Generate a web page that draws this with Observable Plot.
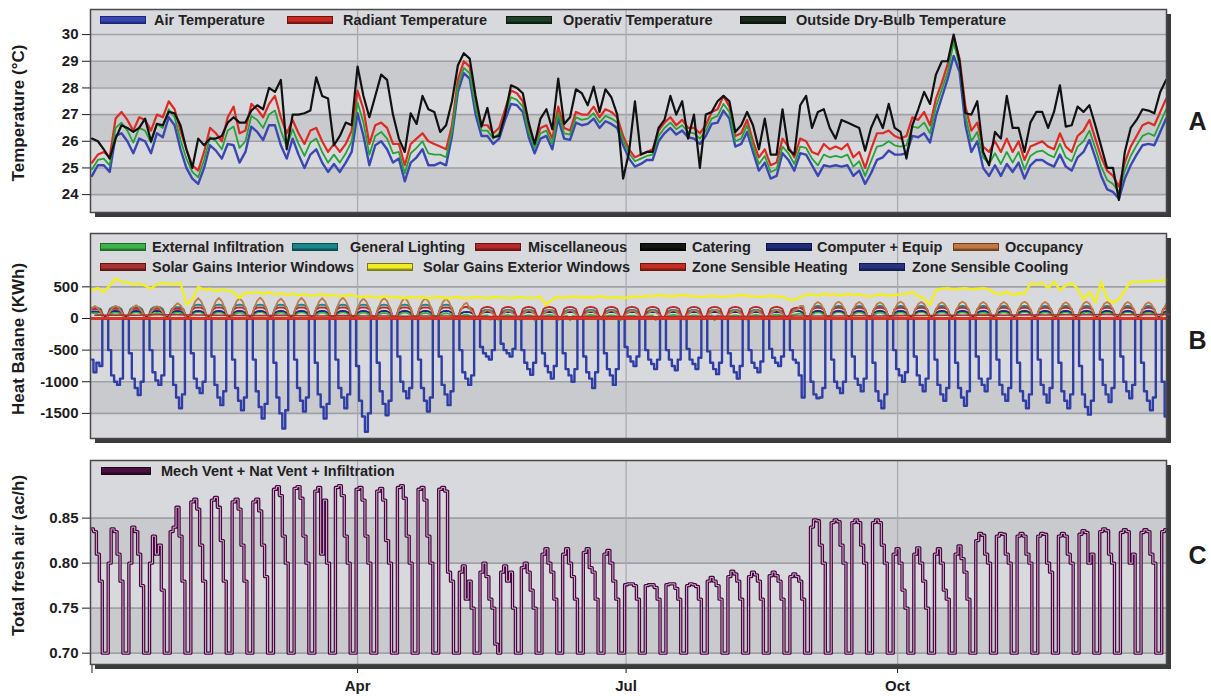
<!DOCTYPE html>
<html><head><meta charset="utf-8">
<script src="https://cdn.jsdelivr.net/npm/d3@7"></script>
<script src="https://cdn.jsdelivr.net/npm/@observablehq/plot@0.6"></script>
<style>
body{margin:0;background:#fff;font-family:"Liberation Sans",Arial,Helvetica,sans-serif;}
#chart{position:relative;width:1211px;height:696px;overflow:hidden;}
.panel{position:relative;width:1211px;}
.panel svg{display:block;}
.sw{position:absolute;height:8px;box-sizing:border-box;border:1px solid #222;}
.lt{position:absolute;font-weight:bold;font-size:14.5px;line-height:17px;color:#222;white-space:nowrap;}
</style></head>
<body><div id="chart"></div>
<script>
// ---------------- DATA ----------------
// Panel A: temperatures every 2 days from 1 Jan (°C)
const airTemp = [24.7,25.1,25.1,24.85,26.2,26.3,26.0,25.55,26.1,26.0,25.55,26.3,26.15,26.9,26.6,25.7,25.0,24.6,24.4,25.0,25.85,25.65,25.35,25.9,25.85,25.2,25.6,26.55,26.35,26.05,26.6,26.6,25.85,25.35,26.1,25.5,25.0,25.5,25.7,25.2,24.85,25.15,24.85,25.2,25.6,27.05,26.2,25.1,25.85,26.0,25.7,25.2,25.35,24.5,25.2,25.4,25.7,25.1,25.1,25.2,25.1,
26.2,27.85,28.55,28.35,27.0,26.2,26.2,25.9,26.1,26.8,27.4,27.35,27.1,26.15,25.55,26.1,26.2,25.7,26.85,26.1,26.05,26.7,26.6,26.65,26.85,26.5,26.75,26.65,26.5,25.85,25.35,25.05,25.15,25.3,25.3,26.0,26.3,26.5,26.25,26.4,26.15,26.1,25.9,26.2,26.65,26.7,27.15,26.85,25.8,25.9,26.35,25.6,24.9,25.2,24.6,24.7,25.55,25.3,24.9,25.55,25.5,25.1,
24.7,25.1,25.05,25.1,25.05,25.1,24.7,24.9,24.4,24.8,25.3,25.4,25.65,25.5,25.5,25.55,26.2,26.15,26.3,25.95,26.95,27.65,28.35,29.2,28.6,26.6,25.6,26.0,25.0,24.7,25.1,24.7,25.15,24.85,25.2,24.6,25.1,25.3,25.3,25.15,25.05,25.5,25.05,24.9,25.4,25.6,26.05,25.4,24.7,24.2,24.1,23.85,24.6,25.1,25.5,25.85,25.9,25.85,26.35,26.85];
const radiantTemp = [25.2,25.5,25.6,25.4,26.85,27.1,26.8,26.4,26.9,26.8,26.4,27.0,26.9,27.5,27.2,26.4,25.7,25.1,24.9,25.6,26.5,26.3,26.0,26.9,27.3,26.3,26.4,27.4,27.2,26.9,27.4,27.7,26.9,26.3,26.8,26.3,25.9,26.4,26.5,26.0,25.6,25.9,25.6,25.9,26.4,27.9,27.2,25.9,26.6,26.7,26.5,25.9,25.9,25.1,25.9,26.1,26.3,26.0,25.9,25.8,25.7,
26.6,28.3,29.0,28.8,27.5,26.6,26.6,26.3,26.5,27.2,27.9,27.8,27.5,26.5,25.9,26.5,26.6,26.1,27.3,26.5,26.4,27.1,27.0,27.0,27.3,26.9,27.2,27.1,26.9,26.2,25.7,25.4,25.5,25.6,25.7,26.4,26.7,26.9,26.6,26.8,26.5,26.5,26.3,26.6,27.1,27.2,27.7,27.3,26.2,26.3,26.8,26.0,25.4,25.7,25.1,25.2,26.1,25.8,25.4,26.1,26.0,25.6,
25.5,25.9,25.7,25.8,25.7,25.9,25.4,25.6,25.0,25.7,26.3,26.3,26.4,26.2,26.1,26.2,26.9,26.8,27.1,26.6,27.6,28.2,28.9,29.9,29.1,27.3,26.4,26.7,25.8,25.6,26.0,25.6,26.1,25.6,26.0,25.3,25.8,25.9,26.0,25.8,25.7,26.3,25.8,25.6,26.2,26.4,26.8,26.1,25.4,24.9,24.7,24.3,25.2,25.8,26.2,26.6,26.7,26.6,27.1,27.6];
const operativeTemp = [24.95,25.3,25.35,25.1,26.5,26.7,26.4,25.95,26.5,26.4,25.95,26.65,26.5,27.2,26.9,26.05,25.35,24.85,24.65,25.3,26.15,26.0,25.7,26.4,26.55,25.75,26.0,26.95,26.8,26.5,27.0,27.15,26.4,25.8,26.45,25.9,25.45,25.95,26.1,25.6,25.2,25.5,25.2,25.55,26.0,27.45,26.7,25.5,26.2,26.35,26.1,25.55,25.6,24.8,25.55,25.75,26.0,25.55,25.5,25.5,25.4,
26.4,28.05,28.75,28.55,27.25,26.4,26.4,26.1,26.3,27.0,27.65,27.55,27.3,26.35,25.75,26.3,26.4,25.9,27.05,26.3,26.25,26.9,26.8,26.85,27.05,26.7,26.95,26.85,26.7,26.05,25.55,25.25,25.35,25.45,25.5,26.2,26.5,26.7,26.45,26.6,26.35,26.3,26.1,26.4,26.85,26.95,27.4,27.1,26.0,26.1,26.6,25.8,25.15,25.45,24.85,24.95,25.8,25.55,25.15,25.8,25.75,25.35,
25.1,25.5,25.4,25.45,25.4,25.5,25.05,25.25,24.7,25.25,25.8,25.85,26.0,25.85,25.8,25.85,26.55,26.5,26.7,26.3,27.3,27.95,28.6,29.7,28.85,26.95,26.0,26.35,25.4,25.15,25.55,25.15,25.6,25.2,25.6,24.95,25.45,25.6,25.65,25.5,25.4,25.9,25.4,25.25,25.8,26.0,26.4,25.75,25.05,24.55,24.4,24.1,24.9,25.45,25.85,26.2,26.3,26.2,26.7,27.2];
const outsideTemp = [26.1,26.0,25.7,25.35,26.1,26.6,26.5,26.35,26.5,26.85,26.0,26.65,26.6,27.1,27.05,26.6,25.7,25.0,26.1,25.85,26.1,26.1,26.2,26.7,26.9,26.7,26.7,27.15,27.35,27.2,28.0,27.85,28.3,25.7,27.0,27.0,27.05,27.15,28.4,27.7,27.6,25.85,26.2,26.7,26.6,28.8,27.7,26.9,27.7,28.5,28.3,27.0,26.1,25.6,27.05,26.65,27.7,27.2,27.1,26.35,26.6,
27.5,28.85,29.3,29.1,27.7,26.55,27.25,26.15,26.2,27.0,28.1,28.0,27.8,26.7,25.9,26.85,27.2,26.45,28.35,26.65,26.9,27.95,27.8,27.35,28.05,27.1,27.95,27.65,27.0,24.6,25.6,27.5,25.5,25.6,25.6,26.5,26.8,27.7,27.0,27.5,26.1,27.0,25.0,27.0,27.1,27.5,27.7,27.5,26.35,26.6,27.1,26.6,25.7,26.85,25.5,25.5,27.2,25.7,25.5,27.35,27.7,26.5,
27.1,27.2,26.5,26.1,26.8,26.7,26.6,26.5,25.65,26.5,27.0,26.5,27.4,26.5,26.35,25.35,26.6,27.2,27.85,27.4,28.5,29.0,29.0,30.0,29.0,27.05,27.0,27.5,25.6,25.1,26.35,26.1,27.7,26.5,26.5,25.6,26.7,27.1,27.1,26.5,27.1,28.1,26.55,26.6,27.3,27.1,27.35,26.6,25.8,25.0,25.0,23.8,25.6,26.5,26.8,27.2,27.15,27.05,27.85,28.3];

// Panel B: heat balance (kWh), daily from Tue 1 Jan (rows = weeks Mon..Sun)
const zoneCooling = [-650,-850,-700,-750,0,0,
-500,-900,-1000,-1050,-950,0,0, -550,-950,-1100,-1210,-1000,0,0, -500,-850,-980,-1050,-900,0,0, -600,-1050,-1250,-1420,-1200,0,0,
-550,-950,-1100,-1180,-1000,0,0, -600,-1050,-1250,-1370,-1150,0,0, -650,-1100,-1300,-1450,-1250,0,0, -650,-1150,-1400,-1580,-1350,0,0,
-700,-1250,-1500,-1740,-1450,0,0, -650,-1100,-1300,-1470,-1250,0,0, -700,-1200,-1400,-1580,-1350,0,0, -650,-1100,-1250,-1420,-1200,0,0,
-750,-1300,-1550,-1790,-1500,0,0, -700,-1150,-1350,-1530,-1300,0,0, -600,-1000,-1150,-1260,-1100,0,0, -650,-1100,-1300,-1470,-1250,0,0,
-600,-1050,-1200,-1370,-1150,0,0, -500,-850,-950,-1050,-900,0,0, -450,-550,-600,-650,-500,0,0, -400,-500,-550,-600,-480,0,0,
-500,-700,-800,-890,-700,0,0, -550,-750,-850,-950,-750,0,0, -550,-800,-900,-1000,-800,0,0, -600,-850,-950,-1100,-850,0,0,
-550,-800,-900,-1050,-800,0,0, -450,-600,-680,-750,-600,0,0, -500,-650,-720,-800,-650,0,0, -500,-650,-750,-820,-650,0,0,
-480,-650,-720,-800,-620,0,0, -520,-700,-800,-880,-700,0,0, -550,-750,-850,-950,-750,0,0, -500,-700,-780,-850,-680,0,0,
-480,-620,-700,-750,-600,0,0, -500,-650,-700,-900,-1250,0,0, -1000,-1200,-1260,-1250,-1100,0,0, -650,-1000,-1100,-1180,-1000,0,0,
-600,-950,-1050,-1150,-950,0,0, -700,-1150,-1300,-1420,-1200,0,0, -500,-800,-900,-1000,-850,0,0, -600,-900,-1050,-1150,-950,0,0,
-650,-1050,-1200,-1300,-1100,0,0, -700,-1100,-1250,-1380,-1150,0,0, -600,-950,-1050,-1150,-950,0,0, -650,-1050,-1200,-1300,-1100,0,0,
-700,-1150,-1300,-1420,-1200,0,0, -650,-1050,-1200,-1330,-1100,0,0, -700,-1150,-1300,-1420,-1200,0,0, -750,-1200,-1400,-1520,-1300,0,0,
-650,-1050,-1200,-1320,-1100,0,0, -600,-1000,-1150,-1260,-1050,0,0, -700,-1150,-1300,-1450,-1250,0,0,
-1000,-1550];
const occupancy = [160,200,160,100,0,0,
100,170,200,170,100,0,0, 110,180,210,175,105,0,0, 100,165,195,165,100,0,0, 120,200,240,210,130,0,0,
160,270,320,270,160,0,0, 165,275,325,275,165,0,0, 160,270,320,270,160,0,0, 170,280,330,280,165,0,0,
160,270,315,265,160,0,0, 165,275,325,275,165,0,0, 160,270,320,270,160,0,0, 170,280,330,280,170,0,0,
160,265,315,265,160,0,0, 165,275,320,275,165,0,0, 160,270,325,270,160,0,0, 165,270,320,270,160,0,0,
160,265,310,260,150,0,0, 130,220,250,160,100,0,0, 70,110,130,110,70,0,0, 65,105,125,105,65,0,0,
70,110,130,110,70,0,0, 75,115,135,115,70,0,0, 70,110,130,110,70,0,0, 65,105,125,105,65,0,0,
70,110,130,110,70,0,0, 70,105,125,110,70,0,0, 65,105,125,105,65,0,0, 70,110,130,110,70,0,0,
70,110,130,110,70,0,0, 75,115,135,115,75,0,0, 70,110,130,110,70,0,0, 70,110,130,110,70,0,0,
75,115,135,115,75,0,0, 80,120,140,200,200,0,0, 140,230,260,230,140,0,0, 145,235,265,235,145,0,0,
140,230,260,230,140,0,0, 140,230,255,230,140,0,0, 145,235,265,235,145,0,0, 140,230,260,230,140,0,0,
140,225,255,225,140,0,0, 145,235,265,235,145,0,0, 140,230,260,230,140,0,0, 140,230,260,230,140,0,0,
145,235,265,235,145,0,0, 140,230,260,230,140,0,0, 140,225,255,225,140,0,0, 145,235,265,235,145,0,0,
140,230,260,230,140,0,0, 140,230,260,230,140,0,0, 140,225,255,225,140,0,0,
140,230];
const generalLighting = [170,170,170,150,20,20,
150,180,180,180,150,20,20, 150,180,180,180,150,20,20, 150,180,180,180,150,20,20, 150,180,180,180,150,20,20,
170,210,220,210,170,20,20, 170,210,220,210,170,20,20, 170,210,220,210,170,20,20, 170,210,220,210,170,20,20,
170,210,220,210,170,20,20, 170,210,220,210,170,20,20, 170,210,220,210,170,20,20, 170,210,220,210,170,20,20,
170,210,220,210,170,20,20, 170,210,220,210,170,20,20, 170,210,220,210,170,20,20, 170,210,220,210,170,20,20,
170,210,220,210,170,20,20, 150,180,180,150,120,15,15, 110,130,135,130,110,15,15, 110,130,135,130,110,15,15,
110,130,135,130,110,15,15, 110,130,135,130,110,15,15, 110,130,135,130,110,15,15, 110,130,135,130,110,15,15,
110,130,135,130,110,15,15, 110,130,135,130,110,15,15, 110,130,135,130,110,15,15, 110,130,135,130,110,15,15,
110,130,135,130,110,15,15, 110,130,135,130,110,15,15, 110,130,135,130,110,15,15, 110,130,135,130,110,15,15,
110,130,135,130,110,15,15, 110,130,150,180,170,20,20, 150,190,200,190,150,20,20, 150,190,200,190,150,20,20,
150,190,200,190,150,20,20, 150,190,200,190,150,20,20, 150,190,200,190,150,20,20, 150,190,200,190,150,20,20,
150,190,200,190,150,20,20, 150,190,200,190,150,20,20, 150,190,200,190,150,20,20, 150,190,200,190,150,20,20,
150,190,200,190,150,20,20, 150,190,200,190,150,20,20, 150,190,200,190,150,20,20, 150,190,200,190,150,20,20,
150,190,200,190,150,20,20, 150,190,200,190,150,20,20, 150,190,200,190,150,20,20,
150,190];
const miscellaneous = [150,150,140,130,10,10,
130,150,155,150,130,10,10, 130,150,155,150,130,10,10, 130,150,155,150,130,10,10, 130,150,155,150,130,10,10,
140,170,175,170,140,10,10, 140,170,175,170,140,10,10, 140,170,175,170,140,10,10, 140,170,175,170,140,10,10,
140,170,175,170,140,10,10, 140,170,175,170,140,10,10, 140,170,175,170,140,10,10, 140,170,175,170,140,10,10,
140,170,175,170,140,10,10, 140,170,175,170,140,10,10, 140,170,175,170,140,10,10, 140,170,175,170,140,10,10,
140,170,175,170,140,10,10, 150,175,185,175,150,10,10, 150,175,185,175,150,10,10, 150,175,185,175,150,10,10,
150,175,185,175,150,10,10, 150,175,185,175,150,10,10, 150,175,185,175,150,10,10, 150,175,185,175,150,10,10,
150,175,185,175,150,10,10, 150,175,185,175,150,10,10, 150,175,185,175,150,10,10, 150,175,185,175,150,10,10,
150,175,185,175,150,10,10, 150,175,185,175,150,10,10, 150,175,185,175,150,10,10, 150,175,185,175,150,10,10,
150,175,185,175,150,10,10, 140,165,170,165,140,10,10, 140,165,170,165,140,10,10, 140,165,170,165,140,10,10,
140,165,170,165,140,10,10, 140,165,170,165,140,10,10, 140,165,170,165,140,10,10, 140,165,170,165,140,10,10,
140,165,170,165,140,10,10, 140,165,170,165,140,10,10, 140,165,170,165,140,10,10, 140,165,170,165,140,10,10,
140,165,170,165,140,10,10, 140,165,170,165,140,10,10, 140,165,170,165,140,10,10, 140,165,170,165,140,10,10,
140,165,170,165,140,10,10, 140,165,170,165,140,10,10, 140,165,170,165,140,10,10,
140,165];
const computerEquip = [110,110,105,100,30,30,
90,115,120,115,90,30,30, 90,115,120,115,90,30,30, 90,115,120,115,90,30,30, 90,115,120,115,90,30,30,
90,115,120,115,90,30,30, 90,115,120,115,90,30,30, 90,115,120,115,90,30,30, 90,115,120,115,90,30,30,
90,115,120,115,90,30,30, 90,115,120,115,90,30,30, 90,115,120,115,90,30,30, 90,115,120,115,90,30,30,
90,115,120,115,90,30,30, 90,115,120,115,90,30,30, 90,115,120,115,90,30,30, 90,115,120,115,90,30,30,
90,115,120,115,90,30,30, 80,100,105,100,80,25,25, 80,100,105,100,80,25,25, 80,100,105,100,80,25,25,
80,100,105,100,80,25,25, 80,100,105,100,80,25,25, 80,100,105,100,80,25,25, 80,100,105,100,80,25,25,
80,100,105,100,80,25,25, 80,100,105,100,80,25,25, 80,100,105,100,80,25,25, 80,100,105,100,80,25,25,
80,100,105,100,80,25,25, 80,100,105,100,80,25,25, 80,100,105,100,80,25,25, 80,100,105,100,80,25,25,
80,100,105,100,80,25,25, 90,115,120,115,90,30,30, 90,115,120,115,90,30,30, 90,115,120,115,90,30,30,
90,115,120,115,90,30,30, 90,115,120,115,90,30,30, 90,115,120,115,90,30,30, 90,115,120,115,90,30,30,
90,115,120,115,90,30,30, 90,115,120,115,90,30,30, 90,115,120,115,90,30,30, 90,115,120,115,90,30,30,
90,115,120,115,90,30,30, 90,115,120,115,90,30,30, 90,115,120,115,90,30,30, 90,115,120,115,90,30,30,
90,115,120,115,90,30,30, 90,115,120,115,90,30,30, 90,115,120,115,90,30,30,
90,115];
const externalInfiltration = [90,80,70,60,20,10,
60,85,95,85,60,20,20, 65,90,100,90,60,25,20, 55,80,90,80,55,20,15, 60,85,95,85,60,20,20,
70,95,105,95,70,25,20, 65,90,100,90,65,20,20, 60,85,95,85,60,20,20, 70,95,105,95,70,25,25,
60,85,95,85,60,20,20, 65,90,100,90,65,20,20, 60,85,95,85,60,20,20, 65,90,100,90,65,25,20,
60,85,95,85,60,20,20, 55,80,90,80,55,20,15, 60,85,95,85,60,20,20, 55,80,90,80,55,15,15,
50,75,85,75,50,15,10, 40,55,60,40,30,10,0, 30,45,50,-20,40,10,-30, 35,50,55,40,30,5,-20,
30,45,50,45,-30,10,0, 35,50,55,50,35,-25,5, 30,45,-30,45,30,10,0, 35,50,55,50,35,10,-20,
30,45,50,45,30,-30,5, 25,40,45,40,25,5,0, 30,45,50,-25,30,10,0, 35,50,55,50,35,5,-20,
30,45,50,45,30,10,0, 35,50,-30,50,35,5,0, 30,45,50,45,30,10,-20, 35,50,55,50,35,5,0,
40,55,60,55,40,10,0, 45,60,70,80,60,15,10, 60,90,100,90,60,20,20, 65,95,105,95,65,20,20,
60,90,100,90,60,20,20, 55,85,95,85,55,15,15, 60,90,100,90,60,20,20, 65,95,105,95,65,25,20,
60,90,100,90,60,20,20, 60,90,100,90,60,20,20, 55,85,95,85,55,15,15, 60,90,100,90,60,20,20,
65,95,105,95,65,20,20, 60,90,100,90,60,20,20, 60,90,100,90,60,20,20, 55,85,95,85,55,15,15,
60,90,100,90,60,20,20, 65,95,105,95,65,20,20, 60,90,100,90,60,20,20,
60,90];
// weekly (one value per week, mid-week)
const solarInterior = [50,55,52,58,60,55,50,48,45,50,42,40,45,40,38,35,40,38,35,30,32,35,30,28,30,32,30,28,30,32,35,30,33,35,38,40,38,42,40,45,48,50,52,55,50,58,55,60,58,62,60,62,65];
// every 2 days
const solarExterior = [450,480,420,520,630,580,570,540,550,520,470,540,560,550,540,560,220,300,500,450,
470,430,460,440,420,320,410,400,420,390,410,380,400,370,390,370,380,360,370,380,
360,370,350,360,370,350,340,350,330,340,350,330,340,320,340,330,340,320,330,340,
320,330,340,320,330,340,330,320,340,330,330,320,340,330,320,330,340,210,310,340,
330,340,350,330,340,330,350,340,330,340,320,340,350,340,360,350,370,360,350,360,
370,360,350,340,350,360,350,340,350,360,370,360,350,340,350,360,350,340,300,290,
340,370,380,360,390,370,380,360,390,370,380,360,350,370,380,360,370,380,390,420,
350,320,210,450,470,480,460,470,480,460,470,480,460,400,380,420,370,400,390,550,
540,560,480,580,450,520,560,470,300,420,250,580,310,250,300,450,580,570,590,580,
600,590,610];
// constant series: first and last day
const catering = [0, 0];
const zoneHeating = [0, 0];

// Panel C: total fresh air (ac/h), daily from Tue 1 Jan (rows = weeks Mon..Sun)
const freshAir = [0.838,0.835,0.81,0.78,0.70,0.70,
0.80,0.838,0.835,0.81,0.78,0.70,0.70, 0.80,0.84,0.835,0.81,0.775,0.70,0.70, 0.80,0.83,0.81,0.82,0.77,0.70,0.70, 0.835,0.84,0.862,0.83,0.78,0.70,0.70,
0.868,0.871,0.86,0.82,0.78,0.70,0.70, 0.87,0.873,0.862,0.825,0.78,0.70,0.70, 0.868,0.871,0.86,0.82,0.78,0.70,0.70, 0.868,0.871,0.858,0.82,0.785,0.70,0.70,
0.882,0.885,0.875,0.83,0.80,0.70,0.70, 0.883,0.885,0.872,0.83,0.80,0.70,0.70, 0.88,0.884,0.81,0.87,0.80,0.70,0.70, 0.884,0.886,0.875,0.83,0.80,0.70,0.70,
0.882,0.884,0.87,0.83,0.80,0.70,0.70, 0.88,0.883,0.87,0.825,0.80,0.70,0.70, 0.884,0.886,0.872,0.83,0.80,0.70,0.70, 0.882,0.884,0.87,0.83,0.80,0.70,0.70,
0.882,0.884,0.88,0.79,0.78,0.70,0.70, 0.79,0.797,0.76,0.78,0.75,0.70,0.70, 0.79,0.80,0.785,0.76,0.75,0.71,0.70, 0.79,0.797,0.78,0.79,0.75,0.70,0.70,
0.795,0.80,0.79,0.77,0.75,0.70,0.70, 0.81,0.816,0.80,0.79,0.76,0.70,0.70, 0.81,0.816,0.80,0.785,0.76,0.70,0.70, 0.812,0.816,0.795,0.79,0.76,0.70,0.70,
0.81,0.814,0.80,0.78,0.76,0.70,0.70, 0.776,0.777,0.777,0.775,0.76,0.70,0.70, 0.775,0.776,0.776,0.773,0.76,0.70,0.70, 0.776,0.777,0.777,0.772,0.76,0.70,0.70,
0.775,0.777,0.776,0.774,0.76,0.70,0.70, 0.78,0.784,0.78,0.775,0.76,0.70,0.70, 0.785,0.791,0.788,0.78,0.76,0.70,0.70, 0.785,0.79,0.787,0.78,0.76,0.70,0.70,
0.786,0.79,0.786,0.78,0.76,0.70,0.70, 0.785,0.788,0.785,0.78,0.76,0.70,0.70, 0.84,0.848,0.847,0.82,0.80,0.70,0.70, 0.845,0.848,0.846,0.82,0.80,0.70,0.70,
0.845,0.848,0.845,0.82,0.80,0.70,0.70, 0.845,0.848,0.845,0.82,0.80,0.70,0.70, 0.81,0.816,0.80,0.77,0.75,0.70,0.70, 0.81,0.817,0.80,0.78,0.75,0.70,0.70,
0.81,0.816,0.80,0.77,0.76,0.70,0.70, 0.81,0.819,0.805,0.79,0.76,0.70,0.70, 0.825,0.833,0.831,0.81,0.80,0.70,0.70, 0.83,0.833,0.832,0.81,0.80,0.70,0.70,
0.83,0.833,0.83,0.81,0.80,0.70,0.70, 0.83,0.833,0.832,0.80,0.79,0.70,0.70, 0.83,0.833,0.83,0.81,0.80,0.70,0.70, 0.832,0.836,0.834,0.80,0.81,0.70,0.70,
0.835,0.838,0.836,0.81,0.80,0.70,0.70, 0.834,0.837,0.835,0.80,0.81,0.70,0.70, 0.834,0.837,0.835,0.81,0.80,0.70,0.70,
0.835,0.837];

// axis ticks
const tempTicks = [24,25,26,27,28,29,30];
const heatTicks = [-1500,-1000,-500,0,500];
const airTicks = [0.70,0.75,0.80,0.85];
const monthTickDates = ["2002-01-01","2002-04-01","2002-07-01","2002-10-01"];
const monthTickLabels = ["","Apr","Jul","Oct"];

// ---------------- BUILD ----------------
const T0 = Date.UTC(2002,0,1);
const dayDate = i => new Date(T0 + i*864e5);
const every2 = arr => arr.map((v,i)=>({date: dayDate(2*i), v}));
const daily = arr => arr.map((v,i)=>({date: dayDate(i), v}));
const weekly = arr => arr.map((v,i)=>({date: dayDate(1+7*i), v}));
const ends = arr => arr.map((v,i)=>({date: dayDate(i*364), v}));
const xDom = [new Date(Date.UTC(2001,11,31,12)), new Date(Date.UTC(2002,11,31,3))];
const tickDates = monthTickDates.map(s => new Date(s+"T00:00:00Z"));
const gridDates = tickDates.slice(1);
const labelByTime = new Map(tickDates.map((d,i)=>[+d, monthTickLabels[i]]));

const FONT = '"Liberation Sans", Arial, Helvetica, sans-serif';
const baseStyle = {fontFamily: FONT, fontSize: "15px", fontWeight: "bold", color: "#1c1c1c", background: "transparent", overflow: "visible"};

function backdrop(yDom, bands, yTicks) {
  const box = [{}];
  return [
    Plot.rect(box, {x1: () => xDom[0], x2: () => xDom[1], y1: () => yDom[0], y2: () => yDom[1], fill: "#3a3a3a", dx: 5, dy: 5}),
    Plot.rect(box, {x1: () => xDom[0], x2: () => xDom[1], y1: () => yDom[0], y2: () => yDom[1], fill: "#d8d9dd"}),
    Plot.rect(bands, {x1: () => xDom[0], x2: () => xDom[1], y1: d => d[0], y2: d => d[1], fill: "#c9cace"}),
    Plot.ruleY(yTicks, {stroke: "#a0a1a6", strokeWidth: 1.6}),
    Plot.ruleX(gridDates, {stroke: "#aaabb0", strokeWidth: 1.3})
  ];
}
function titles(title, tdy, letter, ldy) {
  return [
    Plot.text([title], {frameAnchor: "left", dx: -72, dy: tdy, rotate: -90, textAnchor: "middle", fontSize: 17, fontWeight: "bold", fill: "#1c1c1c", text: d => d}),
    Plot.text([letter], {frameAnchor: "right", dx: 31, dy: ldy, textAnchor: "middle", fontSize: 25, fontWeight: "bold", fill: "#1c1c1c", text: d => d})
  ];
}
function addLegend(panel, items) {
  for (const it of items) {
    const sw = document.createElement("div");
    sw.className = "sw";
    sw.style.left = it.x + "px"; sw.style.top = (it.y - 4) + "px";
    sw.style.width = (it.w || 46) + "px";
    sw.style.background = `linear-gradient(${it.c}, ${it.c} 60%, ${it.b})`;
    sw.style.borderColor = it.b;
    panel.appendChild(sw);
    const t = document.createElement("div");
    t.className = "lt"; t.textContent = it.label;
    t.style.left = it.tx + "px"; t.style.top = (it.y - 8) + "px";
    panel.appendChild(t);
  }
}
const chart = document.getElementById("chart");
function panelDiv() { const d = document.createElement("div"); d.className = "panel"; chart.appendChild(d); return d; }

// ---- Panel A ----
const yA = [23.33, 30.94];
const pA = panelDiv();
pA.appendChild(Plot.plot({
  width: 1211, height: 222, marginLeft: 90, marginRight: 45, marginTop: 9, marginBottom: 10,
  style: baseStyle,
  x: {type: "utc", domain: xDom, axis: null},
  y: {domain: yA, ticks: tempTicks, tickSize: 8, tickPadding: 4, tickFormat: d => String(d), label: null},
  marks: [
    ...backdrop(yA, [[24,25],[26,27],[28,29]], tempTicks),
    Plot.line(every2(airTemp), {x: "date", y: "v", stroke: "#3a47b3", strokeWidth: 2.4}),
    Plot.line(every2(radiantTemp), {x: "date", y: "v", stroke: "#dd2b22", strokeWidth: 2.2}),
    Plot.line(every2(operativeTemp), {x: "date", y: "v", stroke: "#25a336", strokeWidth: 1.8}),
    Plot.line(every2(outsideTemp), {x: "date", y: "v", stroke: "#111111", strokeWidth: 2.2}),
    Plot.frame({stroke: "#4a4a4a", strokeWidth: 1.5}),
    ...titles("Temperature (°C)", 2, "A", 11)
  ]
}));
addLegend(pA, [
  {label: "Air Temperature", c: "#3a47b3", b: "#1c2675", x: 100, tx: 154, y: 19.5},
  {label: "Radiant Temperature", c: "#c92a22", b: "#6e1410", x: 287, tx: 343, y: 19.5},
  {label: "Operativ Temperature", c: "#21402a", b: "#0c1a0f", x: 506, tx: 563, y: 19.5},
  {label: "Outside Dry-Bulb Temperature", c: "#1c2b1e", b: "#0a120b", x: 740, tx: 796, y: 19.5}
]);

// ---- Panel B ----
const yB = [-1897, 1343];
const pB = panelDiv();
pB.appendChild(Plot.plot({
  width: 1211, height: 225, marginLeft: 90, marginRight: 45, marginTop: 11, marginBottom: 9,
  style: baseStyle,
  x: {type: "utc", domain: xDom, axis: null},
  y: {domain: yB, ticks: heatTicks, tickSize: 8, tickPadding: 4, tickFormat: d => String(d), label: null},
  marks: [
    ...backdrop(yB, [[-1500,-1000],[-500,0]], heatTicks),
    Plot.line(daily(zoneCooling), {x: "date", y: "v", stroke: "#2f3da6", strokeWidth: 2.4, curve: "step"}),
    Plot.line(daily(externalInfiltration), {x: "date", y: "v", stroke: "#3cb44b", strokeWidth: 1.8}),
    Plot.line(daily(generalLighting), {x: "date", y: "v", stroke: "#18868b", strokeWidth: 1.8}),
    Plot.line(daily(computerEquip), {x: "date", y: "v", stroke: "#1f2a78", strokeWidth: 1.8}),
    Plot.line(daily(miscellaneous), {x: "date", y: "v", stroke: "#c0282a", strokeWidth: 1.8}),
    Plot.line(daily(occupancy), {x: "date", y: "v", stroke: "#c27a45", strokeWidth: 1.8}),
    Plot.line(weekly(solarInterior), {x: "date", y: "v", stroke: "#a83232", strokeWidth: 1.6}),
    Plot.line(every2(solarExterior), {x: "date", y: "v", stroke: "#f2ef1c", strokeWidth: 2.4}),
    Plot.line(ends(catering), {x: "date", y: "v", stroke: "#111", strokeWidth: 2}),
    Plot.line(ends(zoneHeating), {x: "date", y: "v", stroke: "#e4301e", strokeWidth: 2.8}),
    Plot.frame({stroke: "#4a4a4a", strokeWidth: 1.5}),
    ...titles("Heat Balane (KWh)", 3, "B", 5)
  ]
}));
addLegend(pB, [
  {label: "External Infiltration", c: "#3cb44b", b: "#1d6b27", x: 100, tx: 152, y: 25},
  {label: "General Lighting", c: "#18868b", b: "#0b4a4d", x: 292, tx: 350, y: 25},
  {label: "Miscellaneous", c: "#b8282a", b: "#6a1214", x: 475, tx: 528, y: 25},
  {label: "Catering", c: "#151515", b: "#000", x: 640, tx: 692, y: 25},
  {label: "Computer + Equip", c: "#1f2a78", b: "#0e1545", x: 766, tx: 817, y: 25},
  {label: "Occupancy", c: "#c27a45", b: "#6e3f1c", x: 953, tx: 1005, y: 25},
  {label: "Solar Gains Interior Windows", c: "#a83232", b: "#5c1515", x: 100, tx: 152, y: 45},
  {label: "Solar Gains Exterior Windows", c: "#f0ee22", b: "#77761a", x: 367, tx: 423, y: 45},
  {label: "Zone Sensible Heating", c: "#c42e20", b: "#6d160e", x: 640, tx: 692, y: 45},
  {label: "Zone Sensible Cooling", c: "#2a3383", b: "#141a4a", x: 859, tx: 912, y: 45}
]);

// ---- Panel C ----
const yC = [0.6874, 0.914];
const pC = panelDiv();
pC.appendChild(Plot.plot({
  width: 1211, height: 249, marginLeft: 90, marginRight: 45, marginTop: 13, marginBottom: 32,
  style: baseStyle,
  x: {type: "utc", domain: xDom, ticks: tickDates, tickFormat: d => labelByTime.get(+d) ?? "", tickSize: 9, tickPadding: 7, label: null},
  y: {domain: yC, ticks: airTicks, tickSize: 8, tickPadding: 4, tickFormat: d => d.toFixed(2), label: null},
  marks: [
    ...backdrop(yC, [[0.70,0.75],[0.80,0.85]], airTicks),
    Plot.line(daily(freshAir), {x: "date", y: "v", stroke: "#3d0c38", strokeWidth: 3.4, curve: "step"}),
    Plot.line(daily(freshAir), {x: "date", y: "v", stroke: "#e8a6de", strokeWidth: 1.0, curve: "step"}),
    Plot.frame({stroke: "#4a4a4a", strokeWidth: 1.5}),
    ...titles("Total fresh air (ac/h)", -7, "C", -7)
  ]
}));
addLegend(pC, [
  {label: "Mech Vent + Nat Vent + Infiltration", c: "#4a1040", b: "#1e0519", x: 101, tx: 161, y: 24, w: 50}
]);
</script>
</body></html>
